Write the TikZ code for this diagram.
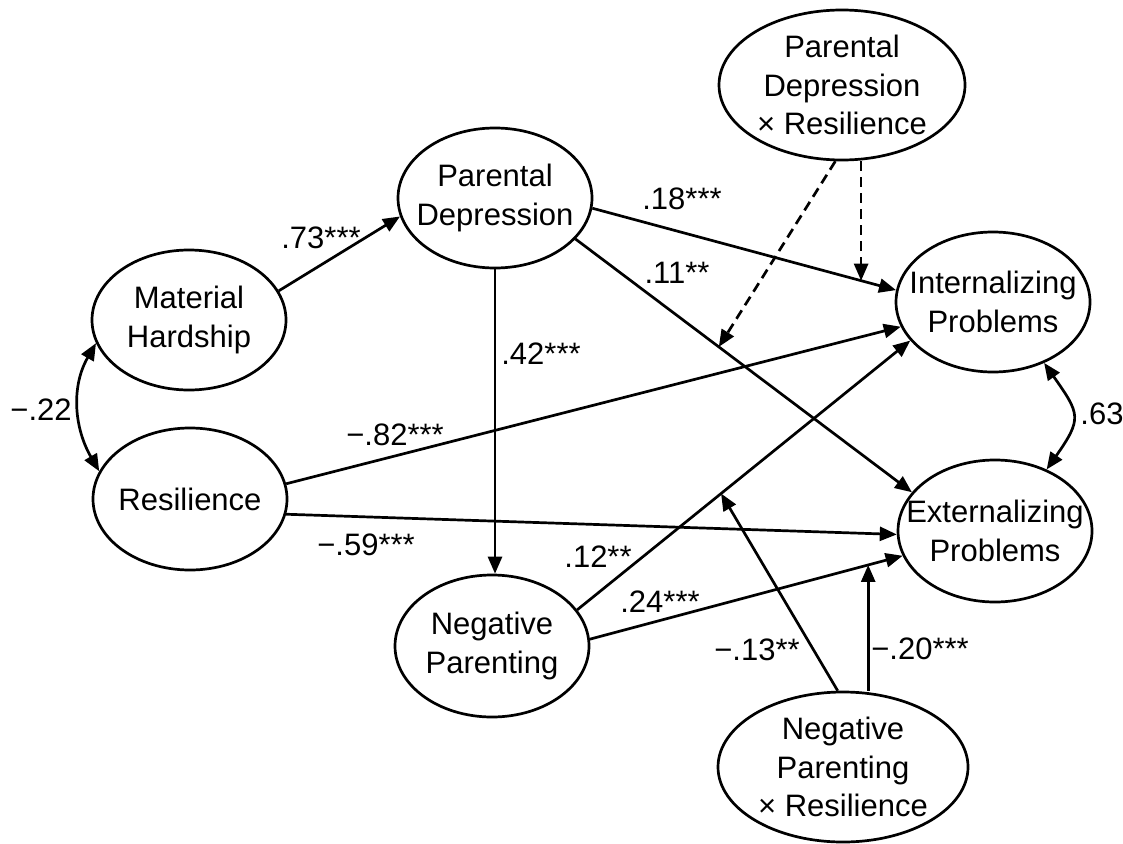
\documentclass[tikz,border=0pt]{standalone}
\usepackage{fontspec}
\setmainfont{Liberation Sans}
\usetikzlibrary{shapes.geometric,arrows.meta}
\begin{document}
\begin{tikzpicture}[x=1pt,y=-1pt,
  ell/.style={ellipse,draw,line width=2.7pt,inner sep=0pt,minimum width=194pt,minimum height=140pt},
  txt/.style={align=center,font=\fontsize{31pt}{38.5pt}\selectfont,inner sep=0pt},
  lab/.style={font=\fontsize{31pt}{36pt}\selectfont,inner sep=0pt},
  arr/.style={-{Triangle[length=17pt,width=14pt]},line width=2.7pt},
  dbl/.style={{Triangle[length=17pt,width=14pt]}-{Triangle[length=17pt,width=14pt]},line width=2.7pt},
  dsh/.style={dash pattern=on 10pt off 6pt}]
\useasboundingbox (0,0) rectangle (1123,843);

% latent variables
\node[ell,label={[txt,name=mht]center:Material\\Hardship}] (mh) at (189,320) {};
\node[ell,minimum height=142pt,label={[txt,name=rest]center:Resilience}] (res) at (190,499) {};
\node[ell,label={[txt,name=pdt]center:Parental\\Depression}] (pd) at (495,198) {};
\node[ell,minimum height=142pt,label={[txt,name=npt]center:Negative\\Parenting}] (np) at (492,646) {};
\node[ell,label={[txt,name=intt]center:Internalizing\\Problems}] (int) at (993,302) {};
\node[ell,minimum height=142pt,label={[txt,name=extt]center:Externalizing\\Problems}] (ext) at (995,531) {};
\node[ell,minimum width=246pt,minimum height=150pt,label={[txt,name=pdrt]center:Parental\\Depression\\× Resilience}] (pdr) at (842,85) {};
\node[ell,minimum width=250pt,minimum height=150pt,label={[txt,name=nprt]center:Negative\\Parenting\\× Resilience}] (npr) at (843,767) {};

% paths
\draw[arr] (mh.18) -- (pd.191);
\draw[arr] (pd.south) -- (pd.south |- np.north);
\draw[arr] (pd.354) -- coordinate[pos=0.885] (c18) (int.173);
\draw[arr] (pd.333) -- coordinate[pos=0.426] (c11) (ext.155);
\draw[arr] (res.9) -- (int.195);
\draw[arr] (res.351) -- (ext.182);
\draw[arr] (np.23) -- coordinate[pos=0.432] (c12) (int.205);
\draw[arr] (np.4) -- coordinate[pos=0.89] (c24) (ext.195);
\draw[dbl] (mh.194) to[out=-120,in=120] (res.163);
\draw[dbl] (int.310) to[out=-55,in=55,looseness=1.5] (ext.50);
\draw[arr,dsh] (c18 |- pdr.south) -- (c18);
\draw[arr,dsh] (pdr.265) -- (c11);
\draw[arr] (npr.94) -- (c12);
\draw[arr] (c24 |- npr.north) -- (c24);

% coefficients
\node[lab] (l73) at (321,238) {.73***};
\node[lab] (l42) at (541,354) {.42***};
\node[lab] (l18) at (682,199) {.18***};
\node[lab] (l11) at (677,273) {.11**};
\node[lab] (l82) at (395,435) {−.82***};
\node[lab] (l59) at (366,545) {−.59***};
\node[lab] (l12) at (598,557) {.12**};
\node[lab] (l24) at (660,602) {.24***};
\node[lab] (l13) at (757,650) {−.13**};
\node[lab] (l20) at (920,649) {−.20***};
\node[lab] (l63) at (1102,414) {.63};
\node[lab] (l22) at (41,410) {−.22};
\end{tikzpicture}
\end{document}
